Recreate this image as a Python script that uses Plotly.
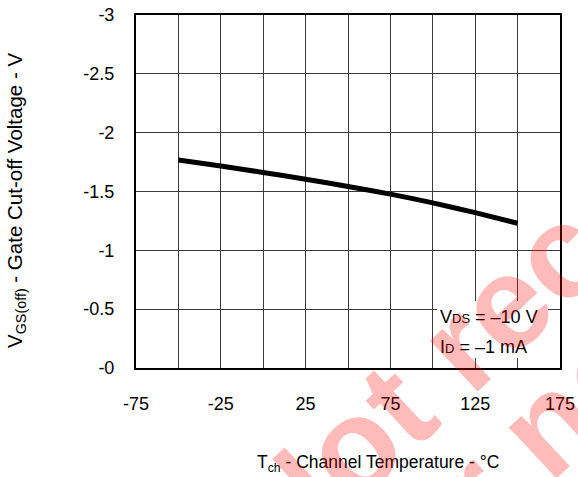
import plotly.graph_objects as go

# Gate cut-off voltage vs. channel temperature
temp_c = [-50, -25, 0, 25, 50, 75, 100, 125, 150]
vgs_off = [-1.767, -1.716, -1.662, -1.604, -1.543, -1.478, -1.403, -1.320, -1.230]

x_tick_vals = [-75, -25, 25, 75, 125, 175]
x_tick_text = ["-75", "-25", "25", "75", "125", "175"]
x_minor_vals = [-50, 0, 50, 100, 150]
y_tick_vals = [-3, -2.5, -2, -1.5, -1, -0.5, 0]
y_tick_text = ["-3", "-2.5", "-2", "-1.5", "-1", "-0.5", "-0"]

W, H = 578, 477
L, R, T, B = 136, 18, 15, 109
FONT = "Liberation Sans, Arial, sans-serif"
GRID = "#3a3a3a"


def px(p):
    return (p - L) / (W - L - R)


def py(p):
    return (H - B - p) / (H - T - B)


fig = go.Figure()
fig.add_trace(go.Scatter(
    x=temp_c, y=vgs_off, mode="lines",
    line=dict(color="black", width=5, shape="spline", smoothing=0.6),
    hoverinfo="skip", showlegend=False,
))

axis_common = dict(
    showline=True, linecolor="black", linewidth=2, mirror=True,
    showgrid=True, gridcolor=GRID, gridwidth=1,
    zeroline=False, ticks="", automargin=False,
    tickfont=dict(family=FONT, size=18, color="black"),
)

fig.update_xaxes(
    range=[-75, 175], tickmode="array",
    tickvals=x_tick_vals, ticktext=x_tick_text,
    minor=dict(tickvals=x_minor_vals, showgrid=True, gridcolor=GRID, gridwidth=1),
    ticklabelstandoff=18, **axis_common,
)
fig.update_yaxes(
    range=[0, -3], tickmode="array",
    tickvals=y_tick_vals, ticktext=y_tick_text,
    ticklabelstandoff=16, **axis_common,
)

# white box behind the test-condition note
fig.add_shape(type="rect", xref="paper", yref="paper",
              x0=px(437), x1=px(548), y0=py(358), y1=py(301),
              fillcolor="white", line=dict(width=0), layer="above")

annotations = [
    dict(text="V<span style='font-size:13px'>DS</span> = \u201310 V",
         x=px(438), y=py(317), xanchor="left", yanchor="middle", size=18),
    dict(text="I<span style='font-size:13px'>D</span> = \u20131 mA",
         x=px(438), y=py(347), xanchor="left", yanchor="middle", size=18),
    dict(text="T<sub>ch</sub> - Channel Temperature - \u00b0C",
         x=px(378), y=py(463), xanchor="center", yanchor="middle", size=17.5),
    dict(text="V<sub>GS(off)</sub> - Gate Cut-off Voltage - V",
         x=px(16), y=py(201), xanchor="center", yanchor="middle",
         textangle=-90, size=20.5),
]
for a in annotations:
    size = a.pop("size")
    fig.add_annotation(xref="paper", yref="paper", showarrow=False,
                       font=dict(family=FONT, size=size, color="black"), **a)

# red stamp across the sheet
stamp_font = dict(family=FONT, size=132, color="rgba(255,0,0,0.27)", weight="bold")
fig.add_annotation(text="Not recommended", x=px(676), y=py(145),
                   xref="paper", yref="paper", showarrow=False,
                   textangle=-43, xanchor="center", yanchor="middle",
                   font=stamp_font)
fig.add_annotation(text="for new design", x=px(703), y=py(279),
                   xref="paper", yref="paper", showarrow=False,
                   textangle=-43, xanchor="center", yanchor="middle",
                   font=stamp_font)

fig.update_layout(
    width=W, height=H,
    margin=dict(l=L, r=R, t=T, b=B),
    paper_bgcolor="white", plot_bgcolor="white",
    showlegend=False,
)

fig.write_html("out.html")
